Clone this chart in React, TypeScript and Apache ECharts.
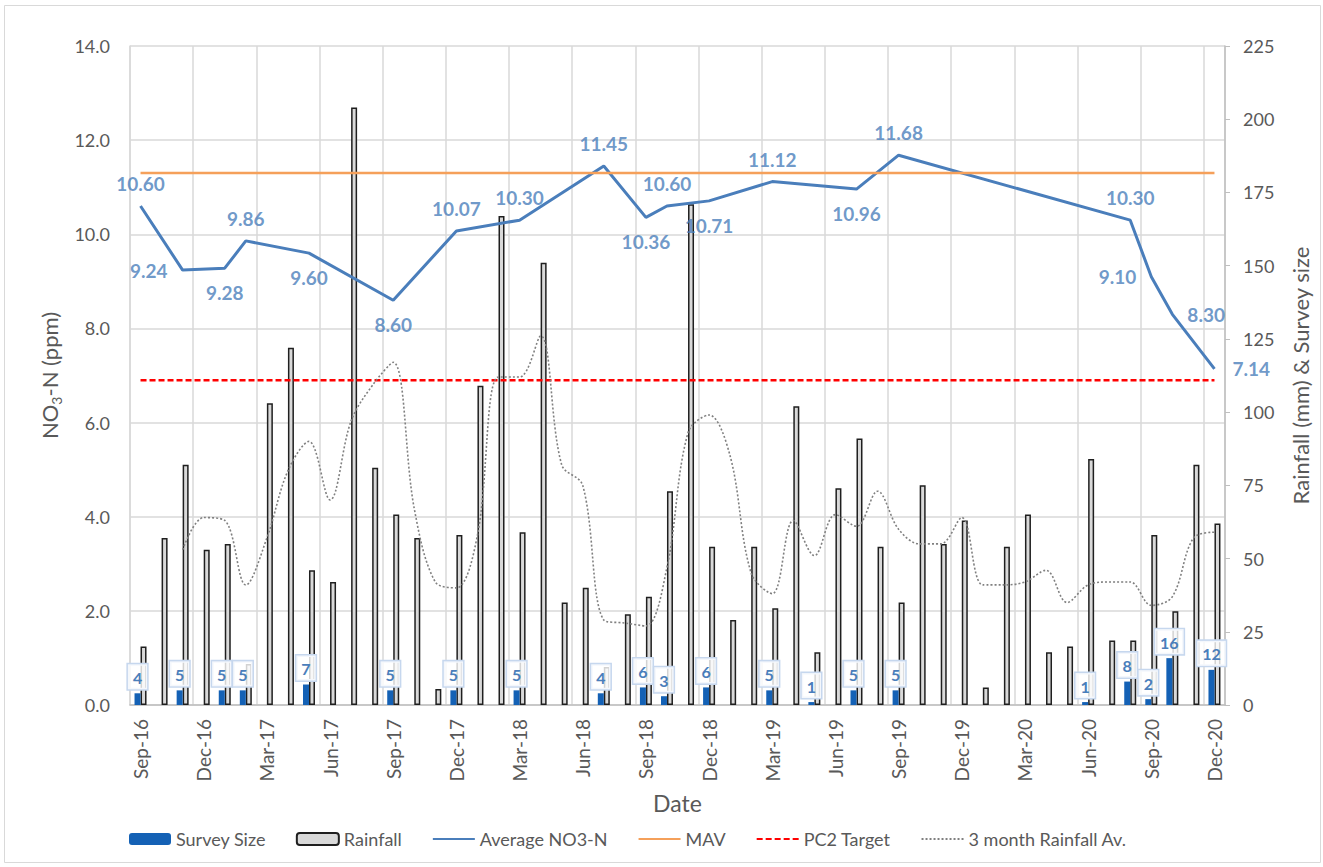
import React, { useEffect, useRef } from "react";
import * as echarts from "echarts";

const months: string[] = [
  "Sep-16", "Oct-16", "Nov-16", "Dec-16",
  "Jan-17", "Feb-17", "Mar-17", "Apr-17", "May-17", "Jun-17", "Jul-17", "Aug-17", "Sep-17", "Oct-17", "Nov-17", "Dec-17",
  "Jan-18", "Feb-18", "Mar-18", "Apr-18", "May-18", "Jun-18", "Jul-18", "Aug-18", "Sep-18", "Oct-18", "Nov-18", "Dec-18",
  "Jan-19", "Feb-19", "Mar-19", "Apr-19", "May-19", "Jun-19", "Jul-19", "Aug-19", "Sep-19", "Oct-19", "Nov-19", "Dec-19",
  "Jan-20", "Feb-20", "Mar-20", "Apr-20", "May-20", "Jun-20", "Jul-20", "Aug-20", "Sep-20", "Oct-20", "Nov-20", "Dec-20",
];

const rainfall: number[] = [
  20, 57, 82, 53,
  55, 14, 103, 122, 46, 42, 204, 81, 65, 57, 5.5, 58,
  109, 167, 59, 151, 35, 40, 13, 31, 37, 73, 171, 54,
  29, 54, 33, 102, 18, 74, 91, 54, 35, 75, 55, 63,
  6, 54, 65, 18, 20, 84, 22, 22, 58, 32, 82, 62,
];

const surveySize: (number | null)[] = [
  4, null, 5, null,
  5, 5, null, null, 7, null, null, null, 5, null, null, 5,
  null, null, 5, null, null, null, 4, null, 6, 3, null, 6,
  null, null, 5, null, 1, null, 5, null, 5, null, null, null,
  null, null, null, null, null, 1, null, 8, 2, 16, null, 12,
];

const avgNO3: (number | null)[] = [
  10.6, null, 9.24, null,
  9.28, 9.86, null, null, 9.6, null, null, null, 8.6, null, null, 10.07,
  null, null, 10.3, null, null, null, 11.45, null, 10.36, 10.6, null, 10.71,
  null, null, 11.12, null, null, null, 10.96, null, 11.68, null, null, null,
  null, null, null, null, null, null, null, 10.3, 9.1, 8.3, null, 7.14,
];

const rain3MonthAv: (number | null)[] = [
  null, null, 53, 64,
  63, 41, 57, 80, 90, 70, 97, 109, 117, 67, 42, 40,
  58, 112, 112, 126, 82, 75, 29, 28, 27, 47, 93, 99,
  85, 45, 38, 63, 51, 65, 61, 73, 60, 55, 55, 64,
  41, 41, 42, 46, 35, 41, 42, 42, 34, 37, 57, 59,
];

const MAV = 11.3;
const PC2_TARGET = 6.9;

// label placement for the Average NO3-N values (style only)
const no3LabelPos: Record<number, string> = {
  0: "top", 2: "left", 4: "bottom", 5: "top", 8: "bottom", 12: "bottom", 15: "top",
  18: "top", 22: "top", 24: "bottom", 25: "top", 27: "bottom", 30: "top", 34: "bottom",
  36: "top", 47: "top", 48: "left", 49: "right", 51: "right",
};

const FONT = 'Lato, "Open Sans", "Noto Sans", sans-serif';
const GREY_TEXT = "#595959";
const BLUE_LABEL = "#4A7EBB";

export default function App() {
  const ref = useRef<HTMLDivElement>(null);

  useEffect(() => {
    if (!ref.current) return;
    const chart = echarts.init(ref.current, undefined, { renderer: "svg" });

    const labelData = avgNO3
      .map((v, i) => {
        if (v == null) return null;
        const pos = no3LabelPos[i] || "top";
        const dist = pos === "bottom" ? 15 : pos === "top" ? 13 : i === 51 ? 18 : 15;
        return {
          value: [i, v],
          label: { position: pos, distance: dist },
        };
      })
      .filter((d) => d !== null);

    const lineLegend = (name: string) => ({ name, itemStyle: { opacity: 0 } });

    const option: any = {
      animation: false,
      textStyle: { fontFamily: FONT },
      graphic: [
        {
          type: "rect",
          shape: { x: 4.5, y: 5.5, width: 1316, height: 857 },
          style: { fill: "none", stroke: "#d9d9d9", lineWidth: 1 },
          silent: true,
          z: -1,
        },
      ],
      grid: { left: 130, right: 98, top: 46, bottom: 162, containLabel: false },
      legend: {
        data: [
          "Survey Size",
          "Rainfall",
          lineLegend("Average NO3-N"),
          lineLegend("MAV"),
          lineLegend("PC2 Target"),
          lineLegend("3 month Rainfall Av."),
        ],
        left: 124,
        top: 825,
        itemWidth: 42,
        itemHeight: 12,
        itemGap: 30,
        textStyle: { fontSize: 18, color: GREY_TEXT, fontFamily: FONT },
      },
      xAxis: {
        type: "category",
        data: months,
        boundaryGap: true,
        name: "Date",
        nameLocation: "middle",
        nameGap: 86,
        nameTextStyle: { fontSize: 23, color: GREY_TEXT },
        axisLine: { lineStyle: { color: "#bfbfbf", width: 1.5 } },
        axisTick: { show: false, interval: 2 },
        axisLabel: { interval: 2, rotate: 90, fontSize: 19, color: GREY_TEXT, margin: 14 },
        splitLine: { show: true, interval: 2, lineStyle: { color: "#d9d9d9", width: 1.5 } },
      },
      yAxis: [
        {
          type: "value",
          min: 0,
          max: 14,
          interval: 2,
          position: "left",
          name: "{a|NO}{sub|3}{a|-N (ppm)}",
          nameLocation: "middle",
          nameRotate: 90,
          nameGap: 66,
          nameTextStyle: {
            color: GREY_TEXT,
            rich: {
              a: { fontSize: 22, color: GREY_TEXT, fontFamily: FONT, lineHeight: 28 },
              sub: { fontSize: 14, color: GREY_TEXT, fontFamily: FONT, verticalAlign: "bottom", lineHeight: 28 },
            },
          },
          axisLabel: {
            fontSize: 18,
            color: GREY_TEXT,
            margin: 20,
            formatter: (v: number) => v.toFixed(1),
          },
          axisLine: { show: true, lineStyle: { color: "#d9d9d9", width: 1.5 } },
          axisTick: { show: false },
          splitLine: { show: true, lineStyle: { color: "#d9d9d9", width: 1.5 } },
        },
        {
          type: "value",
          min: 0,
          max: 225,
          interval: 25,
          position: "right",
          name: "Rainfall (mm) & Survey size",
          nameLocation: "middle",
          nameRotate: 90,
          nameGap: 61,
          nameTextStyle: { fontSize: 22, color: GREY_TEXT, lineHeight: 28 },
          axisLabel: { fontSize: 18, color: GREY_TEXT, margin: 18 },
          axisLine: { show: true, lineStyle: { color: "#bfbfbf", width: 1.5 } },
          axisTick: { show: true, inside: false, length: 5, lineStyle: { color: "#bfbfbf" } },
          splitLine: { show: false },
        },
      ],
      series: [
        {
          name: "Survey Size",
          type: "bar",
          yAxisIndex: 1,
          data: surveySize,
          barWidth: 6,
          barGap: "0%",
          z: 5,
          itemStyle: { color: "#1461B5" },
          label: {
            show: true,
            position: "top",
            distance: 4,
            fontSize: 16,
            fontWeight: "bold",
            color: BLUE_LABEL,
            fontFamily: FONT,
            backgroundColor: "rgba(255,255,255,0.8)",
            borderColor: "#c6d7ee",
            borderWidth: 1.5,
            padding: [5, 5, 4, 5],
          },
        },
        {
          name: "Rainfall",
          type: "bar",
          yAxisIndex: 1,
          data: rainfall,
          barWidth: 6,
          barGap: "0%",
          z: 2,
          itemStyle: { color: "#d9d9d9", borderColor: "#1f1f1f", borderWidth: 1.5 },
        },
        {
          name: "Average NO3-N",
          type: "line",
          yAxisIndex: 0,
          data: avgNO3,
          connectNulls: true,
          symbol: "none",
          z: 3,
          itemStyle: { color: "#4A7EBB" },
          lineStyle: { color: "#4A7EBB", width: 3 },
        },
        {
          name: "MAV",
          type: "line",
          yAxisIndex: 0,
          data: months.map(() => MAV),
          symbol: "none",
          z: 3,
          itemStyle: { color: "#F5A05A" },
          lineStyle: { color: "#F5A05A", width: 2.5 },
        },
        {
          name: "PC2 Target",
          type: "line",
          yAxisIndex: 0,
          data: months.map(() => PC2_TARGET),
          symbol: "none",
          z: 3,
          itemStyle: { color: "#FF0000" },
          lineStyle: { color: "#FF0000", width: 2.5, type: [6, 3] },
        },
        {
          name: "3 month Rainfall Av.",
          type: "line",
          yAxisIndex: 1,
          data: rain3MonthAv,
          smooth: 0.35,
          symbol: "none",
          z: 3,
          itemStyle: { color: "#808080" },
          lineStyle: { color: "#808080", width: 1.6, type: [2, 2] },
        },
        {
          name: "NO3 labels",
          type: "scatter",
          yAxisIndex: 0,
          data: labelData,
          symbolSize: 0,
          z: 6,
          silent: true,
          itemStyle: { color: "transparent" },
          label: {
            show: true,
            fontSize: 19,
            fontWeight: "bold",
            color: BLUE_LABEL,
            fontFamily: FONT,
            formatter: (p: any) => Number(p.value[1]).toFixed(2),
          },
        },
      ],
    };

    chart.setOption(option);
    return () => chart.dispose();
  }, []);

  return (
    <div
      ref={ref}
      style={{ position: "absolute", left: 0, top: 0, width: 1323, height: 867, background: "#fff" }}
    />
  );
}
